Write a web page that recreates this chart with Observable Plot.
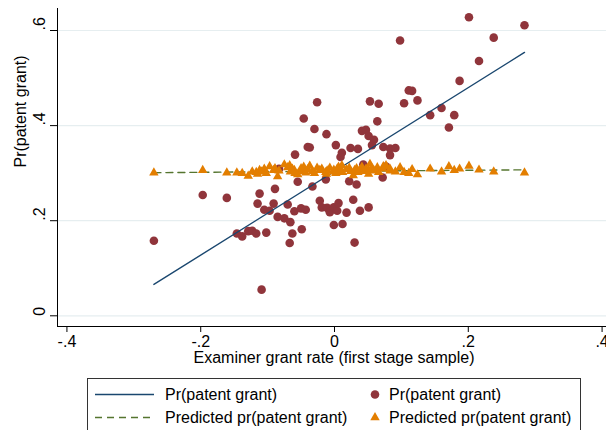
<!DOCTYPE html>
<html>
<head>
<meta charset="utf-8">
<script src="https://cdn.jsdelivr.net/npm/d3@7"></script>
<script src="https://cdn.jsdelivr.net/npm/@observablehq/plot@0.6"></script>
<style>
  html, body { margin: 0; padding: 0; background: #fff; }
  #wrap { position: relative; width: 606px; height: 430px; overflow: hidden; font-family: "Liberation Sans", Arial, sans-serif; }
  #legend { position: absolute; left: 87px; top: 378px; width: 494px; height: 60px; border: 1px solid #333; box-sizing: border-box; background: #fff; }
</style>
</head>
<body>
<div id="wrap"></div>
<script>
// Bin x values (examiner grant rate), shared by both scatter series
const binX = [-0.270,-0.197,-0.161,-0.146,-0.138,-0.129,-0.123,-0.117,-0.115,-0.112,
  -0.109,-0.105,-0.102,-0.097,-0.091,-0.089,-0.085,-0.083,-0.075,-0.070,
  -0.067,-0.066,-0.063,-0.060,-0.059,-0.055,-0.050,-0.049,-0.046,-0.043,
  -0.040,-0.037,-0.033,-0.030,-0.026,-0.022,-0.019,-0.013,-0.012,-0.011,
  -0.007,-0.001,-0.001,0.002,0.004,0.006,0.009,0.011,0.012,0.018,
  0.022,0.024,0.028,0.030,0.033,0.035,0.038,0.041,0.043,0.047,
  0.051,0.051,0.053,0.056,0.059,0.064,0.066,0.072,0.073,0.077,
  0.083,0.083,0.091,0.098,0.104,0.111,0.116,0.124,0.143,0.160,
  0.171,0.179,0.187,0.201,0.216,0.238,0.284];
// Observed Pr(patent grant) per bin
const grantY = [0.158,0.254,0.248,0.173,0.167,0.178,0.179,0.173,0.236,0.257,
  0.055,0.223,0.175,0.221,0.236,0.267,0.208,0.309,0.205,0.234,
  0.153,0.197,0.173,0.220,0.339,0.282,0.226,0.182,0.415,0.223,
  0.355,0.354,0.272,0.393,0.449,0.242,0.228,0.287,0.382,0.227,
  0.218,0.191,0.228,0.359,0.221,0.237,0.334,0.343,0.193,0.217,
  0.283,0.353,0.244,0.154,0.276,0.351,0.221,0.389,0.318,0.391,
  0.378,0.228,0.451,0.359,0.370,0.409,0.446,0.291,0.355,0.314,
  0.352,0.338,0.353,0.579,0.447,0.474,0.473,0.453,0.422,0.437,
  0.396,0.422,0.494,0.628,0.536,0.585,0.611];
// Predicted Pr(patent grant) per bin
const predY = [0.301,0.306,0.301,0.301,0.300,0.294,0.303,0.302,0.298,0.306,
  0.303,0.309,0.300,0.314,0.306,0.310,0.293,0.305,0.318,0.312,
  0.316,0.303,0.309,0.306,0.300,0.297,0.310,0.304,0.313,0.301,
  0.308,0.315,0.304,0.300,0.311,0.306,0.309,0.302,0.298,0.305,
  0.311,0.303,0.307,0.300,0.309,0.313,0.305,0.316,0.302,0.308,
  0.311,0.304,0.295,0.306,0.310,0.302,0.307,0.313,0.304,0.309,
  0.298,0.306,0.319,0.310,0.305,0.312,0.302,0.309,0.314,0.316,
  0.305,0.309,0.303,0.312,0.302,0.300,0.308,0.297,0.309,0.303,
  0.314,0.306,0.309,0.315,0.307,0.303,0.301];
// Fitted lines (endpoints)
const fitX = [-0.270, 0.284];
const fitGrantY = [0.066, 0.554];
const fitPredY = [0.301, 0.307];
// Axis ticks
const xTicks = [-0.4, -0.2, 0, 0.2, 0.4];
const yTicks = [0, 0.2, 0.4, 0.6];
const xTitle = "Examiner grant rate (first stage sample)";
const yTitle = "Pr(patent grant)";
const legendLabels = ["Pr(patent grant)", "Pr(patent grant)", "Predicted pr(patent grant)", "Predicted pr(patent grant)"];

const C = { navy: "#1a476f", maroon: "#90353b", green: "#55752f", orange: "#e37e00", grid: "#e6eef0" };
const fmt = d => d === 0 ? "0" : (d < 0 ? "-" : "") + Math.abs(d).toFixed(1).replace(/^0/, "");

const pts = binX.map((x, i) => ({ x, g: grantY[i], p: predY[i] }));
const fitG = fitX.map((x, i) => ({ x, y: fitGrantY[i] }));
const fitP = fitX.map((x, i) => ({ x, y: fitPredY[i] }));

const xDom = [-0.4141, 0.4066];
const yDom = [-0.0225, 0.6463];

const chart = Plot.plot({
  width: 606, height: 372,
  marginLeft: 57, marginRight: 0, marginTop: 8, marginBottom: 46,
  x: { domain: xDom },
  y: { domain: yDom },
  style: { fontFamily: "'Liberation Sans', Arial, sans-serif", fontSize: "16px", background: "#fff", color: "#000", overflow: "visible" },
  marks: [
    Plot.gridY(yTicks, { stroke: C.grid, strokeOpacity: 1, strokeWidth: 1.2 }),
    Plot.dot(pts, { x: "x", y: "g", r: 4.3, fill: C.maroon }),
    Plot.line(fitG, { x: "x", y: "y", stroke: C.navy, strokeWidth: 1.4 }),
    Plot.line(fitP, { x: "x", y: "y", stroke: C.green, strokeWidth: 1.4, strokeDasharray: "7,5" }),
    Plot.dot(pts, { x: "x", y: "p", symbol: "triangle", r: 3.5, fill: C.orange }),
    Plot.ruleX([xDom[0]], { stroke: "#000", strokeWidth: 1 }),
    Plot.ruleY([yDom[0]], { stroke: "#000", strokeWidth: 1 }),
    Plot.axisX({ ticks: xTicks, tickSize: 6, tickPadding: 3, tickFormat: fmt, label: null, fontSize: 16 }),
    Plot.axisY({ ticks: yTicks, tickSize: 7, tickFormat: () => "", label: null }),
    Plot.text(yTicks, { y: d => d, text: fmt, frameAnchor: "left", dx: -18, rotate: -90, fontSize: 16, fill: "#000" }),
    Plot.text([xTitle], { frameAnchor: "bottom", dy: 36, dx: 2, fontSize: 16, fill: "#000" }),
    Plot.text([yTitle], { frameAnchor: "left", dx: -37, rotate: -90, fontSize: 16, fill: "#000" })
  ]
});

const wrap = document.getElementById("wrap");
wrap.appendChild(chart);

// Legend below the chart
const leg = document.createElement("div");
leg.id = "legend";
wrap.appendChild(leg);
const svg = d3.select(leg).append("svg").attr("width", 494).attr("height", 60)
  .style("font-family", "'Liberation Sans', Arial, sans-serif").style("font-size", "16px");
const r1 = 15.5, r2 = 38.5;
svg.append("line").attr("x1", 7).attr("x2", 66).attr("y1", r1).attr("y2", r1).attr("stroke", C.navy).attr("stroke-width", 1.4);
svg.append("line").attr("x1", 7).attr("x2", 66).attr("y1", r2).attr("y2", r2).attr("stroke", C.green).attr("stroke-width", 1.4).attr("stroke-dasharray", "7,5");
svg.append("circle").attr("cx", 287).attr("cy", r1).attr("r", 4.3).attr("fill", C.maroon);
svg.append("path").attr("d", d3.symbol(d3.symbolTriangle, Math.PI * 3.5 * 3.5)()).attr("transform", `translate(287,${r2})`).attr("fill", C.orange);
const tx = [77, 301, 77, 301], ty = [r1, r1, r2, r2];
legendLabels.forEach((t, i) => {
  svg.append("text").attr("x", tx[i]).attr("y", ty[i]).attr("dy", "0.35em").attr("fill", "#000").text(t);
});
</script>
</body>
</html>
